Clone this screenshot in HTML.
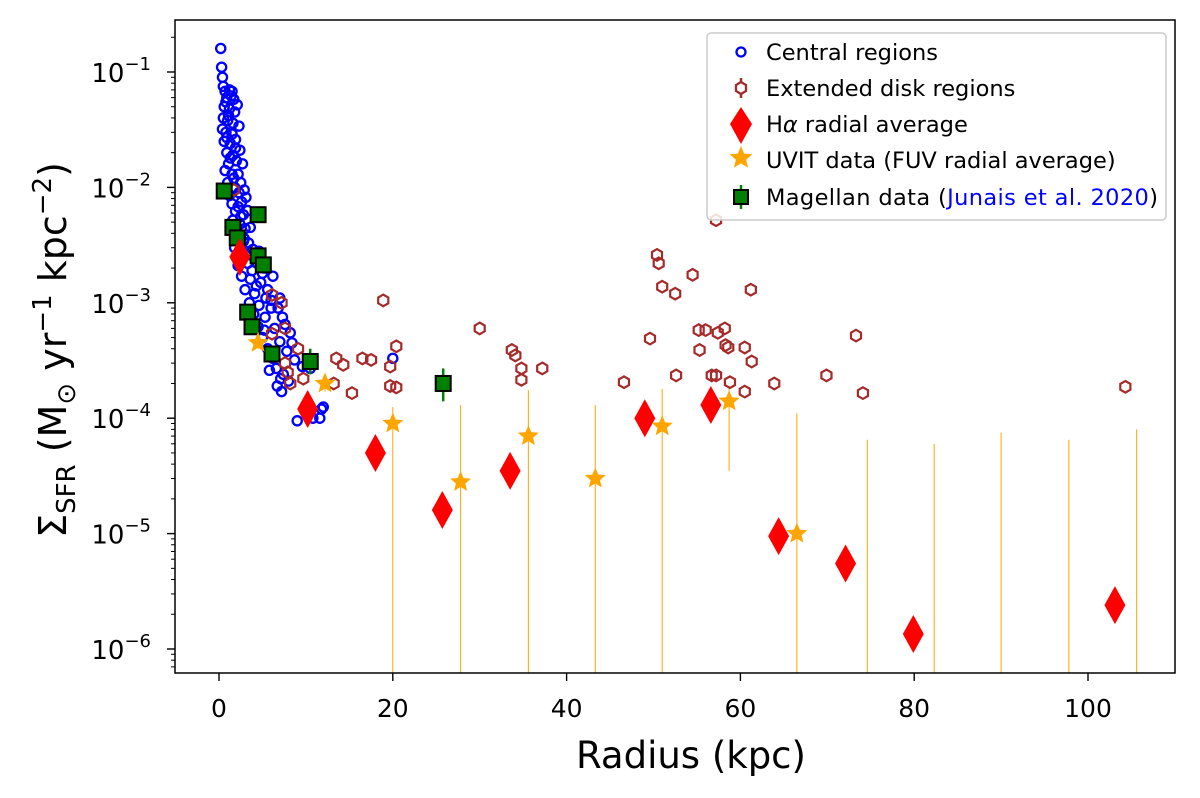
<!DOCTYPE html>
<html><head><meta charset="utf-8"><style>
html,body{margin:0;padding:0;background:#fff;}
svg{display:block;font-family:"DejaVu Sans","Liberation Sans",sans-serif;}
</style></head><body>
<svg id="chart" width="1200" height="798" viewBox="0 0 1200 798" xmlns="http://www.w3.org/2000/svg">
<rect x="0" y="0" width="1200" height="798" fill="#fff"/>
<g id="marks"></g>
<rect x="175" y="20" width="1000" height="653" fill="none" stroke="#000" stroke-width="1.5"/>
<g id="axes"></g>
<text x="691" y="768" text-anchor="middle" font-size="37">Radius (kpc)</text>
<text transform="translate(66,350) rotate(-90)" text-anchor="middle" font-size="38">Σ<tspan font-size="26" dy="9">SFR</tspan><tspan dy="-9"> (M</tspan><tspan font-size="26" dy="9">⊙</tspan><tspan dy="-9"> yr</tspan><tspan font-size="26" dy="-15">−1</tspan><tspan dy="15"> kpc</tspan><tspan font-size="26" dy="-15">−2</tspan><tspan dy="15">)</tspan></text>
<g id="legend">
<rect x="707" y="33" width="459" height="187" rx="4" fill="#fff" fill-opacity="0.85" stroke="#ccc" stroke-width="1.5"/>
<g><circle cx="741" cy="52" r="4.5" fill="none" stroke="#0000ff" stroke-width="2.3"/><text x="766" y="60" font-size="22.5">Central regions</text></g>
<g><line x1="741" y1="78" x2="741" y2="98" stroke="#a52a2a" stroke-width="2.5"/><polygon points="741,82 746,85 746,91 741,94 736,91 736,85" fill="#fff" stroke="#a52a2a" stroke-width="2.3"/><text x="766" y="96" font-size="22.5">Extended disk regions</text></g>
<g><polygon points="741,107 752,124 741,144 730,124" fill="#ff0000"/><text x="766" y="132" font-size="22.5">H<tspan font-style="italic">α</tspan> radial average</text></g>
<g><polygon id="legstar" fill="#ffa500"/><text x="766" y="168" font-size="22.5">UVIT data (FUV radial average)</text></g>
<g><line x1="741" y1="185" x2="741" y2="209" stroke="#008000" stroke-width="2.5"/><rect x="734" y="190" width="14" height="14" fill="#008000" stroke="#000" stroke-width="2"/><text x="766" y="205" font-size="22.5" textLength="392">Magellan data (<tspan fill="#0000ff">Junais et al. 2020</tspan>)</text></g>
</g>
</svg>
<script>
// Data
const centralR = [0.2,0.3,0.4,0.5,0.7,1.2,1.5,0.9,1.7,0.6,1.2,1.8,0.5,1.0,1.6,0.4,0.8,1.5,0.6,1.3,1.9,0.9,1.6,1.1,2.0,0.7,1.5,2.2,1.0,1.8,2.5,1.2,2.3,1.5,2.6,1.9,2.8,1.6,2.4,3.0,2.0,2.9,3.4,1.8,2.6,3.9,2.2,3.3,4.4,5.2,2.6,3.6,4.8,6.2,3.0,4.1,5.6,7.0,3.5,4.6,6.0,4.0,5.3,7.3,4.5,6.4,8.2,5.0,7.0,5.6,7.8,6.2,8.7,6.6,7.4,8.0,6.7,7.2,9.0,11.6,11.8,12.0,10.8,9.6,20.0,10.5,
  0.8,1.4,2.1,1.1,2.3,0.9,1.9,2.4,1.3,2.7,1.7,2.9,2.2,3.1,2.5,3.3,2.0,3.6,2.8,4.1,3.2,4.6,3.8,5.0,4.3,5.4,6.0,6.8,5.2,7.6,8.4,6.1,5.8,7.1];
const centralSFR = [0.16,0.11,0.09,0.075,0.068,0.07,0.068,0.06,0.058,0.05,0.048,0.045,0.04,0.038,0.036,0.032,0.03,0.029,0.025,0.024,0.026,0.02,0.019,0.016,0.017,0.014,0.013,0.013,0.011,0.01,0.011,0.0085,0.009,0.0072,0.0075,0.0062,0.0058,0.0052,0.0048,0.0044,0.0038,0.0036,0.0033,0.003,0.0028,0.0029,0.0021,0.0022,0.0022,0.002,0.0017,0.0016,0.0015,0.0017,0.0013,0.0012,0.0013,0.0011,0.001,0.00095,0.0009,0.0008,0.00075,0.00075,0.00062,0.0006,0.00055,0.0005,0.00046,0.0004,0.00038,0.00033,0.00032,0.00027,0.00024,0.00021,0.00019,0.00017,0.000095,0.0001,0.00012,0.000125,0.0001,0.00028,0.00033,0.00027,
  0.055,0.062,0.052,0.042,0.034,0.027,0.022,0.021,0.018,0.016,0.012,0.0095,0.0068,0.0082,0.0056,0.0063,0.0043,0.0045,0.0034,0.0025,0.0026,0.0028,0.0019,0.0018,0.0014,0.0011,0.00105,0.0009,0.00058,0.00065,0.00045,0.00036,0.00026,0.00022];
const extR = [1.7,6.1,7.2,6.1,7.6,9.1,7.6,7.9,8.2,9.7,13.5,14.3,16.5,17.5,13.2,15.3,18.9,19.7,19.7,20.4,20.4,30.0,33.7,34.1,34.8,34.8,37.2,46.6,49.6,50.4,50.6,51.0,52.5,54.5,52.6,55.2,56.0,55.3,56.7,57.2,57.2,57.4,58.2,58.3,58.6,58.8,60.5,60.5,61.3,61.2,63.9,69.9,73.3,74.1,104.3];
const extSFR = [0.0095,0.00117,0.001,0.00054,0.0006,0.0004,0.0003,0.00025,0.0002,0.00022,0.00033,0.00029,0.00033,0.00032,0.0002,0.000165,0.00105,0.00028,0.00019,0.000185,0.00042,0.0006,0.00039,0.00035,0.00027,0.000215,0.00027,0.000205,0.00049,0.0026,0.0022,0.00138,0.0012,0.00175,0.000235,0.00058,0.00058,0.00039,0.000235,0.000235,0.0052,0.00055,0.0006,0.00043,0.00041,0.000205,0.00041,0.00017,0.00031,0.0013,0.0002,0.000235,0.00052,0.000165,0.000187];
const haR = [2.4,10.2,18.0,25.7,33.5,49.0,56.6,64.4,72.1,79.9,103.1];
const haSFR = [0.0025,0.00012,0.00005,0.000016,0.000035,0.0001,0.00013,0.0000095,0.0000055,0.00000135,0.0000024];
const uvR = [4.5,12.2,20.0,27.8,35.6,43.3,51.0,58.7,66.5];
const uvSFR = [0.00045,0.0002,0.00009,0.000028,0.00007,0.00003,0.000085,0.00014,0.00001];
const uvErrHi = [0.00052,0.00024,0.000125,0.00013,0.000175,0.00013,0.00018,0.00019,0.00011];
const uvErrLo = [0.0004,0.00017,0,0,0,0,0,0.000035,0];
const uvLimR = [74.6,82.3,90.0,97.8,105.6];
const uvLimHi = [0.000065,0.00006,0.000075,0.000065,0.00008];
const magR = [0.6,4.5,1.6,2.1,4.5,5.1,3.3,3.8,6.1,10.5,25.8];
const magSFR = [0.0093,0.0058,0.0045,0.00365,0.00255,0.00213,0.00083,0.00062,0.00036,0.00031,0.0002];
const magErrHi = [0,0,0,0,0,0,0,0,0,0.0004,0.00027];
const magErrLo = [0,0,0,0,0,0,0,0,0,0.00024,0.00014];
const xTicks = [0,20,40,60,80,100];
const yTickExp = [-6,-5,-4,-3,-2,-1];

const BOTTOM = 673;
const X = r => 219 + r*8.69;
const Y = v => 72 - (Math.log10(v)+1)*115.4;
const NS = 'http://www.w3.org/2000/svg';
const marks = document.getElementById('marks');
const axes = document.getElementById('axes');
function mk(tag, attrs, parent){const e=document.createElementNS(NS,tag);for(const k in attrs)e.setAttribute(k,attrs[k]);parent.appendChild(e);return e;}
function starPts(cx,cy,R){const r=R*0.45;let p=[];for(let i=0;i<10;i++){const a=-Math.PI/2+i*Math.PI/5;const rr=i%2?r:R;p.push((cx+rr*Math.cos(a)).toFixed(1)+','+(cy+rr*Math.sin(a)).toFixed(1));}return p.join(' ');}
function hexPts(cx,cy,r){let p=[];for(let i=0;i<6;i++){const a=-Math.PI/2+i*Math.PI/3;p.push((cx+r*Math.cos(a)).toFixed(1)+','+(cy+r*Math.sin(a)).toFixed(1));}return p.join(' ');}
document.getElementById('legstar').setAttribute('points',starPts(741,158,12));

uvR.forEach((r,i)=>{
  const y2 = uvErrLo[i]>0 ? Y(uvErrLo[i]) : BOTTOM;
  const l = mk('line',{x1:X(r),x2:X(r),y1:Y(uvErrHi[i]),y2:y2,stroke:'#ffa500','stroke-width':1},marks);
  
  
});
uvLimR.forEach((r,i)=>{
  const l = mk('line',{x1:X(r),x2:X(r),y1:Y(uvLimHi[i]),y2:BOTTOM,stroke:'#ffa500','stroke-width':1},marks);
  
  
});
centralR.forEach((r,i)=>{
  const c = mk('circle',{cx:X(r),cy:Y(centralSFR[i]),r:4.6,fill:'none',stroke:'#0000ff','stroke-width':2.3},marks);
  
  
});
extR.forEach((r,i)=>{
  const h = mk('polygon',{points:hexPts(X(r),Y(extSFR[i]),5.8),fill:'none',stroke:'#a52a2a','stroke-width':2.2},marks);
  
  
});
magR.forEach((r,i)=>{
  const x=X(r), y=Y(magSFR[i]);
  if(magErrHi[i]>0){
    const l = mk('line',{x1:x,x2:x,y1:Y(magErrHi[i]),y2:Y(magErrLo[i]),stroke:'#008000','stroke-width':2.5},marks);
    
    
  }
  const s = mk('rect',{x:x-7.5,y:y-7.5,width:15,height:15,fill:'#008000',stroke:'#000','stroke-width':2},marks);
  
  
});
haR.forEach((r,i)=>{
  const x=X(r), y=Y(haSFR[i]);
  const d = mk('polygon',{points:`${x},${y-19} ${x+10.5},${y} ${x},${y+19} ${x-10.5},${y}`,fill:'#ff0000'},marks);
  
  
});
uvR.forEach((r,i)=>{
  const s = mk('polygon',{points:starPts(X(r),Y(uvSFR[i]),11),fill:'#ffa500'},marks);
  
  
});
xTicks.forEach(t=>{
  const x=X(t);
  const l = mk('line',{x1:x,x2:x,y1:BOTTOM,y2:BOTTOM+8,stroke:'#000','stroke-width':1.4},axes);
  
  
  const tx = mk('text',{x:x,y:717,'text-anchor':'middle','font-size':25},axes);
  tx.textContent=t;
  
  
});
yTickExp.forEach(e=>{
  const y=Y(Math.pow(10,e));
  const l = mk('line',{x1:167,x2:175,y1:y,y2:y,stroke:'#000','stroke-width':1.4},axes);
  
  
  const tx = mk('text',{x:151,y:y+10,'text-anchor':'end','font-size':26},axes);
  tx.innerHTML='10<tspan font-size="18" dy="-12">−'+(-e)+'</tspan>';
  
  
});
for(let e=-7;e<=-1;e++){for(let m=2;m<=9;m++){const y=Y(m*Math.pow(10,e));if(y<20||y>BOTTOM)continue;
  const l = mk('line',{x1:171,x2:175,y1:y,y2:y,stroke:'#000','stroke-width':1},axes);
  
  
}}
</script>
</body></html>
